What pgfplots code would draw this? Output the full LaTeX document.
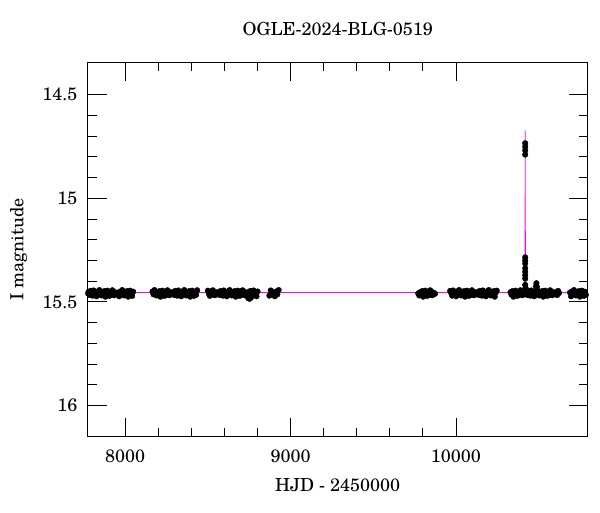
\documentclass[border=0pt]{standalone}
\usepackage{fontspec}
\setmainfont{TeX Gyre Schola}
\usepackage{pgfplots}
\pgfplotsset{compat=1.18}
\definecolor{mag}{RGB}{255,0,255}
\begin{document}
\fontsize{18}{21}\selectfont
\begin{tikzpicture}
\begin{axis}[
  scale only axis, width=500pt, height=374.4pt,
  xmin=7773, xmax=10797, ymin=14.345, ymax=16.15,
  y dir=reverse,
  xtick={8000,9000,10000}, ytick={14.5,15,15.5,16},
  minor x tick num=4, minor y tick num=4,
  major tick length=19pt, minor tick length=9pt,
  tick style={black, line width=0.8pt},
  axis line style={line width=0.9pt},
  /pgf/number format/assume math mode=true,
  /pgf/number format/1000 sep={},
  scaled ticks=false,
  xticklabel style={anchor=base, yshift=-26pt, inner sep=0pt},
  yticklabel style={anchor=east, xshift=-10pt, inner sep=0pt},
  title={OGLE-2024-BLG-0519},
  title style={at={(axis description cs:0.5,1.0561)}, anchor=base, inner sep=0pt},
  xlabel={HJD - 2450000},
  xlabel style={at={(axis description cs:0.5,-0.147)}, anchor=base, inner sep=0pt},
  ylabel={I magnitude},
  ylabel style={at={(axis description cs:-0.1284,0.5)}, anchor=base, inner sep=0pt},
]
\addplot[only marks, mark=*, mark size=2.8pt, black] coordinates {
(7776,15.460)(7778,15.452)(7784,15.467)(7790,15.447)(7796,15.457)(7802,15.470)(7808,15.445)(7814,15.462)(7820,15.455)(7826,15.473)
(7832,15.450)(7838,15.464)(7844,15.443)(7850,15.459)(7856,15.469)(7862,15.453)(7868,15.465)(7874,15.448)(7880,15.475)(7886,15.456)
(7892,15.446)(7898,15.461)(7904,15.471)(7910,15.451)(7916,15.466)(7922,15.444)(7928,15.458)(7934,15.468)(7940,15.454)(7946,15.463)
(7952,15.462)(7958,15.455)(7964,15.473)(7970,15.450)(7976,15.464)(7982,15.443)(7988,15.459)(7994,15.469)(8000,15.453)(8006,15.465)
(8012,15.448)(8018,15.475)(8024,15.456)(8030,15.446)(8036,15.461)(8042,15.471)(8048,15.451)
(8165,15.450)(8171,15.464)(8177,15.443)(8183,15.459)(8189,15.469)(8195,15.453)(8201,15.465)(8207,15.448)(8213,15.475)(8219,15.456)
(8225,15.446)(8231,15.461)(8237,15.471)(8243,15.451)(8249,15.466)(8255,15.444)(8261,15.458)(8267,15.468)(8273,15.454)(8279,15.463)
(8285,15.460)(8291,15.452)(8297,15.467)(8303,15.447)(8309,15.457)(8315,15.470)(8321,15.445)(8327,15.462)(8333,15.455)(8339,15.473)
(8345,15.450)(8351,15.464)(8357,15.443)(8363,15.459)(8369,15.469)(8375,15.453)(8381,15.465)(8387,15.448)(8393,15.475)(8399,15.456)
(8405,15.446)(8411,15.461)(8417,15.471)(8423,15.451)(8429,15.466)(8435,15.444)
(8500,15.446)(8506,15.461)(8512,15.471)(8518,15.451)(8524,15.466)(8530,15.444)(8536,15.458)(8542,15.468)(8548,15.454)(8554,15.463)
(8560,15.460)(8566,15.452)(8572,15.467)(8578,15.447)(8584,15.457)(8590,15.470)(8596,15.445)(8602,15.462)(8608,15.455)(8614,15.473)
(8620,15.450)(8626,15.464)(8632,15.443)(8638,15.459)(8644,15.469)(8650,15.453)(8656,15.465)(8662,15.448)(8668,15.475)(8674,15.456)
(8680,15.446)(8686,15.461)(8692,15.471)(8698,15.451)(8704,15.466)(8710,15.444)(8716,15.458)(8722,15.468)(8728,15.454)(8734,15.463)
(8740,15.460)(8746,15.452)(8752,15.467)(8758,15.447)(8764,15.457)(8770,15.470)(8776,15.445)(8782,15.462)(8788,15.455)(8794,15.473)
(8800,15.450)(8744,15.482)(8752,15.485)(8760,15.480)
(8872,15.470)(8880,15.445)(8888,15.462)(8896,15.455)(8904,15.473)(8912,15.450)(8920,15.464)(8928,15.443)
(9772,15.459)(9778,15.469)(9784,15.453)(9790,15.465)(9796,15.448)(9802,15.475)(9808,15.456)(9814,15.446)(9820,15.461)(9826,15.471)
(9832,15.451)(9838,15.466)(9844,15.444)(9850,15.458)(9856,15.468)(9862,15.454)(9868,15.463)(9874,15.460)
(9965,15.447)(9971,15.457)(9977,15.470)(9983,15.445)(9989,15.462)(9995,15.455)(10001,15.473)(10007,15.450)(10013,15.464)(10019,15.443)
(10025,15.459)(10031,15.469)(10037,15.453)(10043,15.465)(10049,15.448)(10055,15.475)(10061,15.456)(10067,15.446)(10073,15.461)(10079,15.471)
(10085,15.451)(10091,15.466)(10097,15.444)(10103,15.458)(10109,15.468)(10115,15.454)(10121,15.463)(10127,15.460)(10133,15.452)(10139,15.467)
(10145,15.447)(10151,15.457)(10157,15.470)(10163,15.445)(10169,15.462)(10175,15.455)(10181,15.473)(10187,15.450)(10193,15.464)(10199,15.443)
(10205,15.459)(10211,15.469)(10217,15.453)(10223,15.465)(10229,15.448)(10235,15.475)(10241,15.456)(10247,15.446)
(10330,15.453)(10336,15.465)(10342,15.448)(10348,15.475)(10354,15.456)(10360,15.446)(10366,15.461)(10372,15.471)(10378,15.451)(10384,15.466)
(10390,15.444)(10396,15.458)(10402,15.468)(10408,15.454)(10414,15.463)(10420,15.460)(10426,15.452)(10432,15.467)(10438,15.447)(10444,15.457)
(10450,15.470)(10456,15.445)(10462,15.462)(10468,15.455)(10474,15.473)(10480,15.450)(10486,15.464)(10492,15.443)(10498,15.459)(10504,15.469)
(10510,15.453)(10516,15.465)(10522,15.448)(10528,15.475)(10534,15.456)(10540,15.446)(10546,15.461)(10552,15.471)(10558,15.451)(10564,15.466)
(10570,15.444)(10576,15.458)(10582,15.468)(10588,15.454)(10594,15.463)(10600,15.460)(10606,15.452)(10612,15.467)(10618,15.447)(10624,15.457)
(10419,14.735)(10419,14.752)(10419,14.770)(10419,14.790)
(10419,15.285)(10419,15.300)(10419,15.315)(10419,15.338)(10419,15.355)(10419,15.372)(10419,15.388)(10419,15.418)(10421,15.432)
(10484,15.425)(10487,15.410)(10490,15.428)
(10690,15.455)(10696,15.473)(10702,15.450)(10708,15.464)(10714,15.443)(10720,15.459)(10726,15.469)(10732,15.453)(10738,15.465)(10744,15.448)
(10750,15.475)(10756,15.456)(10762,15.446)(10768,15.461)(10774,15.471)(10780,15.451)(10786,15.466)
};
\addplot[mag, line width=0.7pt, mark=none] coordinates {
(7773,15.455)(10395,15.455)(10405,15.452)(10410,15.445)(10414,15.420)(10416,15.380)(10417.5,15.250)(10418.5,14.950)(10419,14.674)
(10419.5,14.950)(10420.5,15.250)(10422,15.380)(10424,15.420)(10428,15.445)(10433,15.452)(10443,15.455)(10797,15.455)
};
\end{axis}
\path[use as bounding box] ([shift={(-87.7pt,-75.3pt)}]current axis.south west) rectangle ([shift={(12.3pt,62.3pt)}]current axis.north east);
\end{tikzpicture}
\end{document}
